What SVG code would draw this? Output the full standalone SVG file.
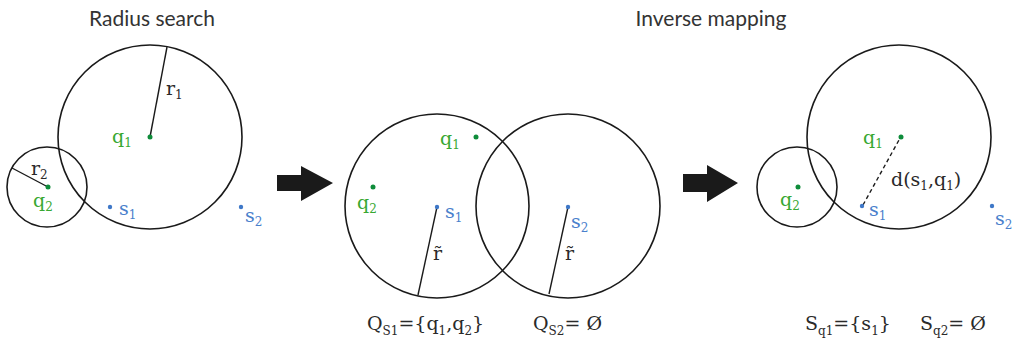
<svg xmlns="http://www.w3.org/2000/svg" width="1014" height="347" viewBox="0 0 1014 347">
<style>
.c{fill:none;stroke:#1a1a1a;stroke-width:1.6}
.ln{stroke:#1a1a1a;stroke-width:1.4}
.dash{stroke:#1a1a1a;stroke-width:1.4;stroke-dasharray:4 3}
.gd{fill:#0e8c3a}
.bd{fill:#3f78c8}
.t{font-family:"DejaVu Serif","Liberation Serif",serif;font-size:19px;fill:#2a2a2a}
.g{fill:#38a832}
.b{fill:#4a80cc}
.sub{font-size:12px}
.title{font-family:Lato,"Open Sans",sans-serif;font-size:21px;fill:#333}
.arr{fill:#1a1a1a}
</style>
<rect width="1014" height="347" fill="#fff"/>
<g id="panel1">
  <text class="title" x="152" y="26" text-anchor="middle">Radius search</text>
  <circle class="c" cx="150" cy="137" r="92"/>
  <circle class="c" cx="47" cy="187" r="40"/>
  <line class="ln" x1="150" y1="137" x2="167" y2="47"/>
  <line class="ln" x1="48" y1="187" x2="12" y2="168"/>
  <circle class="gd" cx="150" cy="137" r="2.5"/>
  <circle class="gd" cx="48" cy="187" r="2.5"/>
  <circle class="bd" cx="110" cy="207" r="2.2"/>
  <circle class="bd" cx="241" cy="207" r="2.2"/>
  <text class="t" x="166" y="95">r<tspan class="sub" dy="4">1</tspan></text>
  <text class="t g" x="112" y="143">q<tspan class="sub" dy="4">1</tspan></text>
  <text class="t" x="31" y="175">r<tspan class="sub" dy="4">2</tspan></text>
  <text class="t g" x="33" y="207">q<tspan class="sub" dy="4">2</tspan></text>
  <text class="t b" x="119" y="215">s<tspan class="sub" dy="4">1</tspan></text>
  <text class="t b" x="245" y="222">s<tspan class="sub" dy="4">2</tspan></text>
</g>
<g id="connectors">
  <polygon class="arr" points="277,175 301,175 301,166 333,183 301,201 301,191 277,191"/>
  <polygon class="arr" points="683,174 707,174 707,165 738,183 707,202 707,192 683,192"/>
</g>
<g id="panel2">
  <circle class="c" cx="437" cy="206" r="92"/>
  <circle class="c" cx="568" cy="206" r="92"/>
  <line class="ln" x1="437" y1="207" x2="418" y2="295"/>
  <line class="ln" x1="568" y1="207" x2="549" y2="294"/>
  <circle class="gd" cx="476" cy="137" r="2.5"/>
  <circle class="gd" cx="373" cy="187" r="2.5"/>
  <circle class="bd" cx="437" cy="207" r="2.2"/>
  <circle class="bd" cx="568" cy="207" r="2.2"/>
  <text class="t g" x="440" y="145">q<tspan class="sub" dy="4">1</tspan></text>
  <text class="t g" x="357" y="209">q<tspan class="sub" dy="4">2</tspan></text>
  <text class="t b" x="445" y="218">s<tspan class="sub" dy="4">1</tspan></text>
  <text class="t b" x="571" y="228">s<tspan class="sub" dy="4">2</tspan></text>
  <text class="t" x="433" y="260">r̃</text>
  <text class="t" x="565" y="260">r̃</text>
  <text class="t" x="367" y="330">Q<tspan class="sub" dy="5">S1</tspan><tspan dy="-5">={q</tspan><tspan class="sub" dy="5">1</tspan><tspan dy="-5">,q</tspan><tspan class="sub" dy="5">2</tspan><tspan dy="-5">}</tspan></text>
  <text class="t" x="533" y="330">Q<tspan class="sub" dy="5">S2</tspan><tspan dy="-5">= Ø</tspan></text>
</g>
<g id="panel3">
  <text class="title" x="711" y="26" text-anchor="middle">Inverse mapping</text>
  <circle class="c" cx="899" cy="137" r="92"/>
  <circle class="c" cx="797" cy="187" r="40"/>
  <line class="dash" x1="863" y1="205" x2="899" y2="140"/>
  <circle class="gd" cx="901" cy="137" r="2.5"/>
  <circle class="gd" cx="798" cy="187" r="2.5"/>
  <circle class="bd" cx="862" cy="206" r="2.2"/>
  <circle class="bd" cx="992" cy="206" r="2.2"/>
  <text class="t g" x="863" y="144">q<tspan class="sub" dy="4">1</tspan></text>
  <text class="t" x="891" y="186">d(s<tspan class="sub" dy="4">1</tspan><tspan dy="-4">,q</tspan><tspan class="sub" dy="4">1</tspan><tspan dy="-4">)</tspan></text>
  <text class="t g" x="780" y="206">q<tspan class="sub" dy="4">2</tspan></text>
  <text class="t b" x="869" y="216">s<tspan class="sub" dy="4">1</tspan></text>
  <text class="t b" x="995" y="225">s<tspan class="sub" dy="4">2</tspan></text>
  <text class="t" x="805" y="330">S<tspan class="sub" dy="5">q1</tspan><tspan dy="-5">={s</tspan><tspan class="sub" dy="5">1</tspan><tspan dy="-5">}</tspan></text>
  <text class="t" x="920" y="330">S<tspan class="sub" dy="5">q2</tspan><tspan dy="-5">= Ø</tspan></text>
</g>
</svg>
